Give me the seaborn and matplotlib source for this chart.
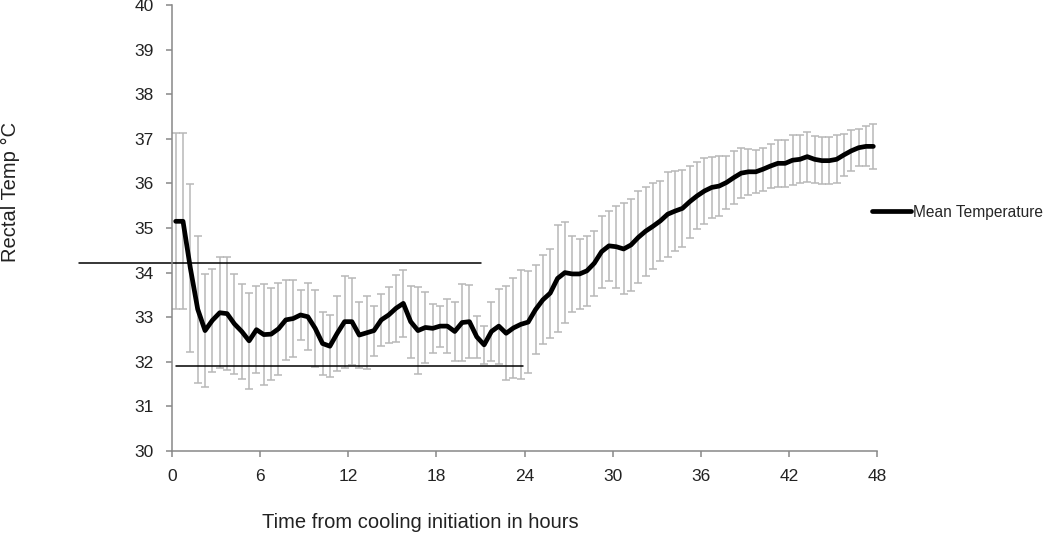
import matplotlib
matplotlib.use("Agg")
import matplotlib.pyplot as plt
import seaborn as sns
import pandas as pd

# sampling times (hours from cooling initiation)
hours = [0.25, 0.75, 1.25, 1.75, 2.25, 2.75, 3.25, 3.75, 4.25, 4.75, 5.25, 5.75,
         6.25, 6.75, 7.25, 7.75, 8.25, 8.75, 9.25, 9.75, 10.25, 10.75, 11.25, 11.75,
         12.25, 12.75, 13.25, 13.75, 14.25, 14.75, 15.25, 15.75, 16.25, 16.75, 17.25, 17.75,
         18.25, 18.75, 19.25, 19.75, 20.25, 20.75, 21.25, 21.75, 22.25, 22.75, 23.25, 23.75,
         24.25, 24.75, 25.25, 25.75, 26.25, 26.75, 27.25, 27.75, 28.25, 28.75, 29.25, 29.75,
         30.25, 30.75, 31.25, 31.75, 32.25, 32.75, 33.25, 33.75, 34.25, 34.75, 35.25, 35.75,
         36.25, 36.75, 37.25, 37.75, 38.25, 38.75, 39.25, 39.75, 40.25, 40.75, 41.25, 41.75,
         42.25, 42.75, 43.25, 43.75, 44.25, 44.75, 45.25, 45.75, 46.25, 46.75, 47.25, 47.75]

mean_temp = [35.15, 35.15, 34.10, 33.18, 32.70, 32.93, 33.10, 33.08, 32.85, 32.68, 32.47, 32.72,
             32.61, 32.62, 32.74, 32.94, 32.97, 33.05, 33.01, 32.75, 32.41, 32.35, 32.64, 32.90,
             32.90, 32.60, 32.65, 32.70, 32.94, 33.05, 33.20, 33.31, 32.90, 32.70, 32.77, 32.75,
             32.80, 32.80, 32.68, 32.88, 32.90, 32.56, 32.38, 32.68, 32.80, 32.64, 32.76, 32.84,
             32.89, 33.17, 33.39, 33.54, 33.87, 34.00, 33.97, 33.97, 34.04, 34.21, 34.47, 34.60,
             34.58, 34.53, 34.62, 34.79, 34.93, 35.04, 35.16, 35.31, 35.38, 35.44, 35.59, 35.72,
             35.83, 35.91, 35.94, 36.02, 36.13, 36.23, 36.26, 36.26, 36.32, 36.39, 36.45, 36.45,
             36.52, 36.54, 36.60, 36.54, 36.51, 36.51, 36.54, 36.64, 36.73, 36.80, 36.83, 36.83]

sd_temp = [1.97, 1.97, 1.89, 1.65, 1.27, 1.15, 1.25, 1.26, 1.12, 1.07, 1.08, 0.97,
           1.14, 1.03, 1.03, 0.89, 0.86, 0.56, 0.75, 0.87, 0.70, 0.70, 0.84, 1.03,
           0.97, 0.75, 0.82, 0.56, 0.59, 0.62, 0.75, 0.75, 0.81, 0.98, 0.79, 0.55,
           0.46, 0.60, 0.66, 0.87, 0.82, 0.47, 0.43, 0.67, 0.84, 1.05, 1.13, 1.22,
           1.15, 1.00, 1.00, 1.00, 1.20, 1.13, 0.85, 0.79, 0.78, 0.73, 0.81, 0.78,
           0.92, 1.02, 1.04, 1.03, 1.00, 0.97, 0.90, 0.95, 0.90, 0.87, 0.81, 0.75,
           0.75, 0.69, 0.67, 0.60, 0.60, 0.56, 0.52, 0.48, 0.48, 0.50, 0.52, 0.52,
           0.56, 0.54, 0.56, 0.53, 0.52, 0.52, 0.54, 0.47, 0.46, 0.42, 0.45, 0.50]

x_ticks = [0, 6, 12, 18, 24, 30, 36, 42, 48]
y_ticks = [30, 31, 32, 33, 34, 35, 36, 37, 38, 39, 40]

# reference lines drawn on the chart (level, start hour, end hour)
upper_ref = (34.22, -6.3, 21.05)
lower_ref = (31.90, 0.25, 23.9)

df = pd.DataFrame({"hours": hours, "mean": mean_temp, "sd": sd_temp})

sns.set_theme(style="white")
plt.rcParams['font.family'] = ['Liberation Sans', 'DejaVu Sans']

fig = plt.figure(figsize=(10.5, 5.39), dpi=100)
ax = fig.add_axes([172/1050, 1 - 451/539, (877-172)/1050, (451-5)/539])

ax.errorbar(df["hours"], df["mean"], yerr=df["sd"], fmt='none', ecolor='#b8b8b8',
            elinewidth=1.1, capsize=3.2, capthick=1.1, zorder=1)
sns.lineplot(data=df, x="hours", y="mean", color='black', linewidth=3.4,
             label='Mean Temperature', ax=ax, zorder=3, legend=False)

for level, x0, x1 in [upper_ref, lower_ref]:
    ax.plot([x0, x1], [level, level], color='black', lw=1.1, clip_on=False, zorder=2)

ax.set_xlim(0, 48)
ax.set_ylim(30, 40)
ax.set_xticks(x_ticks)
ax.set_yticks(y_ticks)
ax.tick_params(axis='both', direction='out', length=4, width=1.1, color='#888888',
               labelsize=12.5, labelcolor='#222222', pad=9, left=True, bottom=True)
ax.set_xlabel("")
ax.set_ylabel("")
for s in ['top', 'right']:
    ax.spines[s].set_visible(False)
for s in ['left', 'bottom']:
    ax.spines[s].set_color('#888888')
    ax.spines[s].set_linewidth(1.1)

fig.text(420/1050, 1 - 523/539, "Time from cooling initiation in hours",
         ha='center', va='center', fontsize=14.5, color='#222222')
fig.text(10/1050, 1 - 192/539, "Rectal Temp °C", rotation=90,
         ha='center', va='center', fontsize=14.5, color='#222222')

handles, labels = ax.get_legend_handles_labels()
fig.legend(handles, labels, loc='center left', bbox_to_anchor=(872/1050, 1 - 212/539),
           frameon=False, fontsize=11.2, handlelength=2.5, handletextpad=0.12,
           borderpad=0, borderaxespad=0)

fig.savefig("out.png", dpi=100, facecolor='white')
